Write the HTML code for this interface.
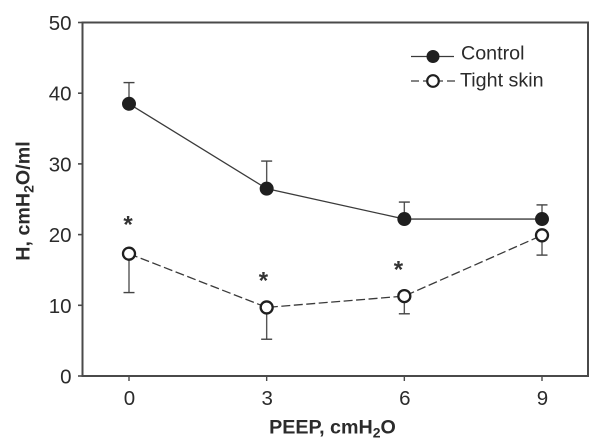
<!DOCTYPE html>
<html>
<head>
<meta charset="utf-8">
<style>
html,body{margin:0;padding:0;background:#fff;width:601px;height:447px;overflow:hidden}
svg{display:block;font-family:"Liberation Sans",sans-serif}
</style>
</head>
<body>
<svg id="chart" width="601" height="447" viewBox="0 0 601 447" xmlns="http://www.w3.org/2000/svg"></svg>
<script>
const categories = [0, 3, 6, 9];
const yTicks = [0, 10, 20, 30, 40, 50];
const controlValues = [38.5, 26.5, 22.2, 22.2];
const controlUpper = [41.5, 30.4, 24.6, 24.2];
const tightValues = [17.3, 9.7, 11.3, 19.9];
const tightLower = [11.8, 5.2, 8.8, 17.1];
const significantCategories = [-0.02, 2.93, 5.87];
const significanceValues = [21.85, 13.9, 15.5];

const svg = document.getElementById('chart');
const NS = 'http://www.w3.org/2000/svg';
const AXIS = '#4a4a4a', INK = '#1f1f1f', TEXT = '#2b2b2b';
const plot = {left: 82.5, right: 588, top: 22.5, bottom: 376};
const xScale = v => 129 + (v / 9) * 413;
const yScale = v => plot.bottom - (v / 50) * (plot.bottom - plot.top);

function make(tag, attrs, text) {
  const el = document.createElementNS(NS, tag);
  for (const k in attrs) el.setAttribute(k, attrs[k]);
  if (text !== undefined) el.textContent = text;
  svg.appendChild(el);
  return el;
}
function line(x1, y1, x2, y2, stroke, width, dash) {
  const a = {x1, y1, x2, y2, stroke, 'stroke-width': width};
  if (dash) a['stroke-dasharray'] = dash;
  return make('line', a);
}

// plot frame
const frame = make('rect', {x: plot.left, y: plot.top, width: plot.right - plot.left, height: plot.bottom - plot.top, fill: 'none', stroke: AXIS, 'stroke-width': 2});



// y axis
yTicks.forEach(v => {
  const t = line(78, yScale(v), plot.left, yScale(v), AXIS, 1.6);
  
  
  const l = make('text', {x: 71.5, y: yScale(v) + 7.5, 'text-anchor': 'end', 'font-size': 20.5, fill: TEXT}, String(v));
  
  
});

// x axis
categories.forEach(v => {
  const t = line(xScale(v), plot.bottom, xScale(v), 381, AXIS, 1.4);
  
  
  const l = make('text', {x: xScale(v) + 0.5, y: 405, 'text-anchor': 'middle', 'font-size': 20.5, fill: TEXT}, String(v));
  
  
});

// error bars
controlUpper.forEach((v, i) => {
  const x = xScale(categories[i]);
  const s = line(x, yScale(controlValues[i]), x, yScale(v), '#555', 1.4);
  
  
  const c = line(x - 5.5, yScale(v), x + 5.5, yScale(v), '#444', 1.4);
  
  
});
tightLower.forEach((v, i) => {
  const x = xScale(categories[i]);
  const s = line(x, yScale(tightValues[i]), x, yScale(v), '#555', 1.4);
  
  
  const c = line(x - 5.5, yScale(v), x + 5.5, yScale(v), '#444', 1.4);
  
  
});

// series lines
const controlLine = make('polyline', {points: controlValues.map((v, i) => xScale(categories[i]) + ',' + yScale(v)).join(' '), fill: 'none', stroke: '#3a3a3a', 'stroke-width': 1.3});


const tightLine = make('polyline', {points: tightValues.map((v, i) => xScale(categories[i]) + ',' + yScale(v)).join(' '), fill: 'none', stroke: '#3a3a3a', 'stroke-width': 1.3, 'stroke-dasharray': '9 3.5'});



// markers
controlValues.forEach((v, i) => {
  const m = make('circle', {cx: xScale(categories[i]), cy: yScale(v), r: 7, fill: INK});
  
  
});
tightValues.forEach((v, i) => {
  const m = make('circle', {cx: xScale(categories[i]), cy: yScale(v), r: 6, fill: '#fff', stroke: INK, 'stroke-width': 2.3});
  
  
});

// significance asterisks
significantCategories.forEach((c, i) => {
  const a = make('text', {x: xScale(c), y: yScale(significanceValues[i]) + 11, 'text-anchor': 'middle', 'font-size': 24, 'font-weight': 'bold', fill: '#333'}, '*');
  
  
});

// legend
const lc = line(411, 56.5, 454, 56.5, '#3a3a3a', 1.3);


const mc = make('circle', {cx: 433, cy: 56.5, r: 6.5, fill: INK});


const tc = make('text', {x: 461, y: 59.5, 'font-size': 19.7, fill: TEXT}, 'Control');


const lt = line(411, 81, 456, 81, '#3a3a3a', 1.3, '8 4');


const mt = make('circle', {cx: 433, cy: 81, r: 5.8, fill: '#fff', stroke: INK, 'stroke-width': 2.2});


const tt = make('text', {x: 460, y: 86.5, 'font-size': 19.7, fill: TEXT}, 'Tight skin');



// axis titles
const xt = make('text', {x: 332.5, y: 433.5, 'text-anchor': 'middle', 'font-size': 19.7, 'font-weight': 'bold', fill: TEXT});


xt.innerHTML = 'PEEP, cmH<tspan font-size="14" dy="4">2</tspan><tspan dy="-4">O</tspan>';
const yt = make('text', {transform: 'translate(29.5 201) rotate(-90)', 'text-anchor': 'middle', 'font-size': 19.7, 'font-weight': 'bold', fill: TEXT});


yt.innerHTML = 'H, cmH<tspan font-size="14" dy="4">2</tspan><tspan dy="-4">O/ml</tspan>';
</script>
</body>
</html>
